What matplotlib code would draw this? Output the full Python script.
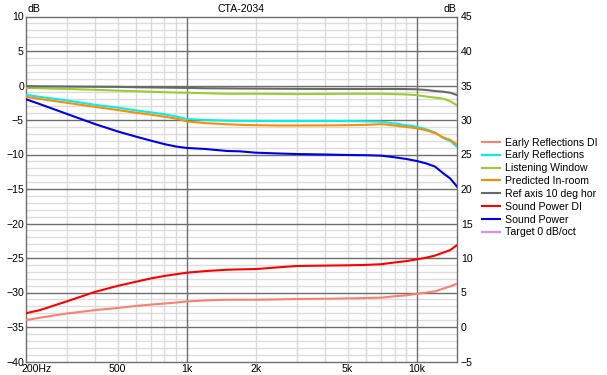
import matplotlib
matplotlib.use("Agg")
import matplotlib.pyplot as plt
import matplotlib.transforms as mtransforms

plt.rcParams['font.family'] = ['Liberation Sans', 'DejaVu Sans']
plt.rcParams['font.size'] = 7.6

# frequencies (Hz) shared by all curves
freq = [200, 230, 300, 400, 500, 600, 700, 800, 900, 1000, 1200, 1500, 1700,
        2000, 2500, 3000, 4000, 5000, 6000, 7000, 8000, 9000, 10000, 11000,
        12000, 13000, 14000, 15000]

er_di = [-34.0, -33.65, -33.05, -32.55, -32.25, -31.95, -31.75, -31.6, -31.45, -31.3, -31.15,
         -31.05, -31.05, -31.05, -31.0, -30.95, -30.9, -30.85, -30.8, -30.75, -30.55, -30.4,
         -30.2, -30.0, -29.85, -29.45, -29.1, -28.7]
early_refl = [-1.35, -1.65, -2.15, -2.8, -3.2, -3.6, -3.9, -4.17, -4.5, -4.85, -5.0,
              -5.1, -5.12, -5.14, -5.14, -5.14, -5.14, -5.15, -5.2, -5.25, -5.5, -5.75,
              -5.97, -6.35, -6.8, -7.6, -8.05, -8.9]
listening = [-0.35, -0.4, -0.5, -0.62, -0.75, -0.83, -0.9, -0.97, -1.02, -1.05, -1.12,
             -1.2, -1.2, -1.2, -1.22, -1.25, -1.22, -1.2, -1.2, -1.2, -1.25, -1.3,
             -1.4, -1.6, -1.75, -1.9, -2.3, -2.9]
predicted = [-1.65, -1.95, -2.5, -3.1, -3.55, -3.94, -4.23, -4.52, -4.8, -5.2, -5.45,
             -5.62, -5.7, -5.75, -5.8, -5.8, -5.78, -5.75, -5.7, -5.6, -5.8, -6.0,
             -6.2, -6.5, -6.9, -7.5, -7.9, -8.6]
ref_axis = [-0.1, -0.12, -0.15, -0.18, -0.2, -0.25, -0.28, -0.3, -0.33, -0.35, -0.4,
            -0.42, -0.44, -0.45, -0.47, -0.48, -0.5, -0.5, -0.5, -0.5, -0.5, -0.52,
            -0.55, -0.65, -0.8, -0.9, -1.05, -1.4]
sp_di = [-33.0, -32.55, -31.3, -29.9, -29.05, -28.45, -27.95, -27.6, -27.35, -27.13, -26.9,
         -26.7, -26.65, -26.6, -26.35, -26.16, -26.1, -26.06, -26.0, -25.9, -25.65, -25.45,
         -25.2, -24.95, -24.65, -24.23, -23.84, -23.1]
sound_power = [-2.0, -2.7, -4.1, -5.6, -6.65, -7.4, -8.0, -8.5, -8.85, -9.05, -9.2,
               -9.49, -9.54, -9.74, -9.85, -9.93, -10.0, -10.07, -10.1, -10.17, -10.4, -10.65,
               -10.94, -11.3, -11.75, -12.7, -13.5, -14.7]

series = [
    ("Early Reflections DI", er_di, "#fa8072"),
    ("Early Reflections", early_refl, "#00f0f0"),
    ("Listening Window", listening, "#9acd32"),
    ("Predicted In-room", predicted, "#ff8c00"),
    ("Ref axis 10 deg hor", ref_axis, "#696969"),
    ("Sound Power DI", sp_di, "#ff0000"),
    ("Sound Power", sound_power, "#0000f0"),
]

fig = plt.figure(figsize=(6.07, 3.75), dpi=100)
ax = fig.add_axes([26 / 607, 1 - 361.5 / 375, (457.3 - 26) / 607, 345 / 375])
ax.set_xscale("log")
ax.set_xlim(200, 15000)
ax.set_ylim(-40, 10)

# grid: light every 1 dB / every minor freq, dark every 5 dB and per decade
light = "#dcdcdc"
dark = "#6e6e6e"
for v in range(-40, 11):
    if v % 5:
        ax.axhline(v, color=light, lw=1, zorder=0)
for f in [300, 400, 500, 600, 700, 800, 900, 2000, 3000, 4000, 5000, 6000, 7000, 8000, 9000]:
    ax.axvline(f, color=light, lw=1, zorder=0)
for v in range(-35, 10, 5):
    ax.axhline(v, color=dark, lw=1, zorder=1)
for f in [1000, 10000]:
    ax.axvline(f, color=dark, lw=1, zorder=1)

for name, vals, col in series:
    ax.plot(freq, vals, color=col, lw=1.5, label=name, zorder=3)
ax.plot([], [], color="#ee82ee", lw=1.5, label="Target 0 dB/oct")

for s in ax.spines.values():
    s.set_color(dark)
    s.set_linewidth(1)

ax.set_yticks(range(-40, 11, 5))
ax.set_xticks([200, 500, 1000, 2000, 5000, 10000])
ax.set_xticklabels(["200Hz", "500", "1k", "2k", "5k", "10k"])
ax.xaxis.set_minor_locator(matplotlib.ticker.NullLocator())
ax.tick_params(axis="both", length=0, colors="black")
ax.tick_params(axis="x", pad=1.5)
ax.tick_params(axis="y", pad=1.5)
lbl = ax.get_xticklabels()[0]
lbl.set_horizontalalignment("left")
lbl.set_transform(lbl.get_transform() + mtransforms.ScaledTranslation(-5 / 100, 0, fig.dpi_scale_trans))

ax2 = ax.twinx()
ax2.set_ylim(-5, 45)
ax2.set_yticks(range(-5, 46, 5))
ax2.tick_params(axis="y", length=0, pad=2.5, colors="black")
for s in ax2.spines.values():
    s.set_visible(False)

fig.text(241.5 / 607, 1 - 8.5 / 375, "CTA-2034", ha="center", va="center")
fig.text(27 / 607, 1 - 8.5 / 375, "dB", ha="left", va="center")
fig.text(456 / 607, 1 - 8.5 / 375, "dB", ha="right", va="center")

fig.legend(loc="upper left", bbox_to_anchor=(482 / 607, 1 - 137.5 / 375),
           frameon=False, borderaxespad=0, borderpad=0, handlelength=1.75,
           handletextpad=0.45, labelspacing=0.27)

fig.savefig("out.png", dpi=100)
